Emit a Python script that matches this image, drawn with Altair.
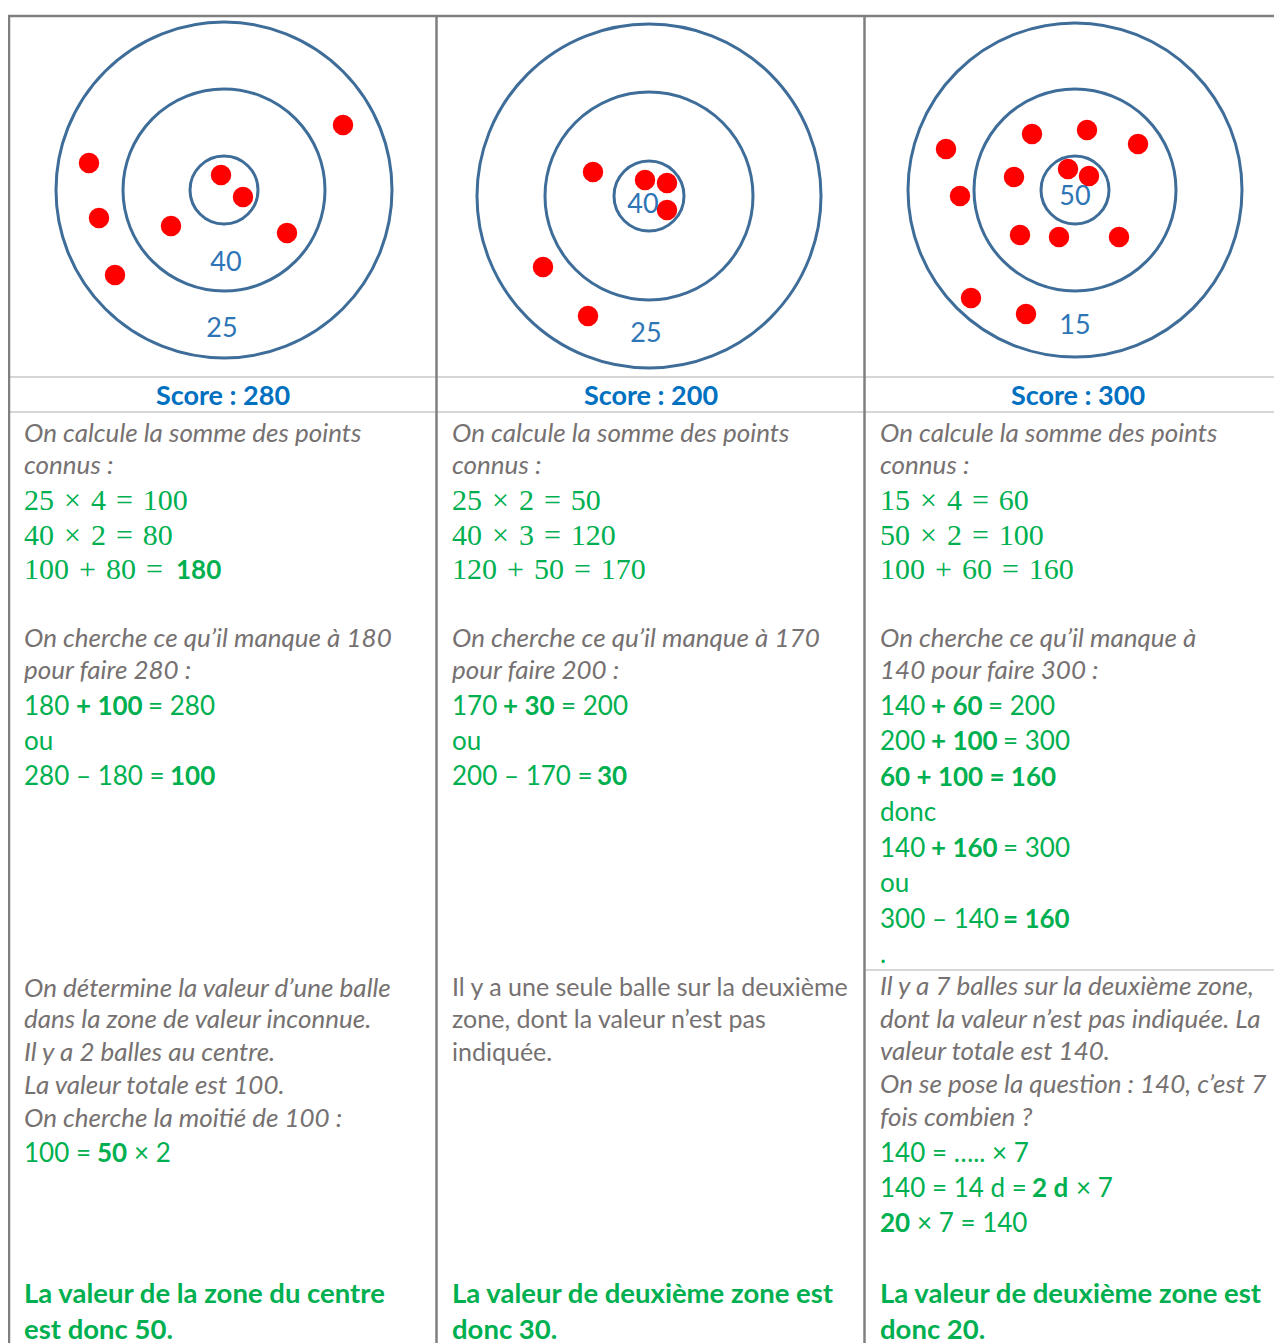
import altair as alt
import pandas as pd

# ---------------- data ----------------
scores = [280, 200, 300]
score_x = [223, 651, 1078]

target_cx = [224, 649, 1075]
target_cy = [190, 196, 190]
r_outer = [168, 172, 167]
r_middle = [101, 104, 101]
r_inner = [34, 35, 34]

balls_x = [
    [343, 89, 99, 115, 171, 221, 243, 287],
    [593, 645, 667, 667, 543, 588],
    [946, 960, 971, 1026, 1032, 1087, 1138, 1014, 1020, 1059, 1119, 1068, 1089],
]
balls_y = [
    [125, 163, 218, 275, 226, 175, 197, 233],
    [172, 180, 183, 210, 267, 316],
    [149, 196, 298, 314, 134, 130, 144, 177, 235, 237, 237, 169, 176],
]

zone_label_text = [["40", "25"], ["40", "25"], ["50", "15"]]
zone_label_x = [[226, 222], [643, 646], [1075, 1075]]
zone_label_y = [[271, 337], [213, 342], [205, 334]]

# table lines
vline_x = [9, 436.5, 864.5]
top_border_y = 16
hline_y = [377, 412]
hline3_y = 970

S = "\u2004"  # math spacing (three-per-em space)

# text lines: (baseline, [(x, text, style)])
# styles: gi gray italic, gr gray regular, m green math serif, s green sans,
#         b green bold, c green bold conclusion
col1 = [
    (442, [(24, "On calcule la somme des points", "gi")]),
    (474, [(24, "connus :", "gi")]),
    (510, [(24, f"25{S}×{S}4{S}={S}100", "m")]),
    (545, [(24, f"40{S}×{S}2{S}={S}80", "m")]),
    (579, [(24, f"100{S}+{S}80{S}=", "m"), (176, "180", "b")]),
    (647, [(24, "On cherche ce qu’il manque à 180", "gi")]),
    (679, [(24, "pour faire 280 :", "gi")]),
    (715, [(24, "180", "s"), (76, "+ 100", "b"), (148, "= 280", "s")]),
    (750, [(24, "ou", "s")]),
    (785, [(24, "280 – 180 =", "s"), (170, "100", "b")]),
    (997, [(24, "On détermine la valeur d’une balle", "gi")]),
    (1028, [(24, "dans la zone de valeur inconnue.", "gi")]),
    (1061, [(24, "Il y a 2 balles au centre.", "gi")]),
    (1094, [(24, "La valeur totale est 100.", "gi")]),
    (1127, [(24, "On cherche la moitié de 100 :", "gi")]),
    (1162, [(24, "100 =", "s"), (97, "50", "b"), (134, "× 2", "s")]),
    (1303, [(24, "La valeur de la zone du centre", "c")]),
    (1339, [(24, "est donc 50.", "c")]),
]
col2 = [
    (442, [(452, "On calcule la somme des points", "gi")]),
    (474, [(452, "connus :", "gi")]),
    (510, [(452, f"25{S}×{S}2{S}={S}50", "m")]),
    (545, [(452, f"40{S}×{S}3{S}={S}120", "m")]),
    (579, [(452, f"120{S}+{S}50{S}={S}170", "m")]),
    (647, [(452, "On cherche ce qu’il manque à 170", "gi")]),
    (679, [(452, "pour faire 200 :", "gi")]),
    (715, [(452, "170", "s"), (503, "+ 30", "b"), (561, "= 200", "s")]),
    (750, [(452, "ou", "s")]),
    (785, [(452, "200 – 170 =", "s"), (597, "30", "b")]),
    (996, [(452, "Il y a une seule balle sur la deuxième", "gr")]),
    (1028, [(452, "zone, dont la valeur n’est pas", "gr")]),
    (1061, [(452, "indiquée.", "gr")]),
    (1303, [(452, "La valeur de deuxième zone est", "c")]),
    (1339, [(452, "donc 30.", "c")]),
]
col3 = [
    (442, [(880, "On calcule la somme des points", "gi")]),
    (474, [(880, "connus :", "gi")]),
    (510, [(880, f"15{S}×{S}4{S}={S}60", "m")]),
    (545, [(880, f"50{S}×{S}2{S}={S}100", "m")]),
    (579, [(880, f"100{S}+{S}60{S}={S}160", "m")]),
    (647, [(880, "On cherche ce qu’il manque à", "gi")]),
    (679, [(880, "140 pour faire 300 :", "gi")]),
    (715, [(880, "140", "s"), (931, "+ 60", "b"), (988, "= 200", "s")]),
    (750, [(880, "200", "s"), (931, "+ 100", "b"), (1003, "= 300", "s")]),
    (786, [(880, "60 + 100 = 160", "b")]),
    (821, [(880, "donc", "s")]),
    (857, [(880, "140", "s"), (931, "+ 160", "b"), (1003, "= 300", "s")]),
    (892, [(880, "ou", "s")]),
    (928, [(880, "300 – 140", "s"), (1003, "= 160", "b")]),
    (963, [(880, ".", "s")]),
    (995, [(880, "Il y a 7 balles sur la deuxième zone,", "gi")]),
    (1028, [(880, "dont la valeur n’est pas indiquée. La", "gi")]),
    (1060, [(880, "valeur totale est 140.", "gi")]),
    (1093, [(880, "On se pose la question : 140, c’est 7", "gi")]),
    (1126, [(880, "fois combien ?", "gi")]),
    (1162, [(880, "140 = ….. × 7", "s")]),
    (1197, [(880, "140 = 14 d =", "s"), (1032, "2 d", "b"), (1076, "× 7", "s")]),
    (1232, [(880, "20", "b"), (917, "× 7 = 140", "s")]),
    (1303, [(880, "La valeur de deuxième zone est", "c")]),
    (1339, [(880, "donc 20.", "c")]),
]

# ---------------- build tables ----------------
W, H = 1266, 1335
xs = alt.Scale(domain=[8, 8 + W], nice=False, zero=False)
ys = alt.Scale(domain=[8, 8 + H], nice=False, zero=False, reverse=True)
X = alt.X("x:Q", scale=xs, axis=None)
Y = alt.Y("y:Q", scale=ys, axis=None)

rings = []
for i in range(3):
    for r in (r_outer[i], r_middle[i], r_inner[i]):
        rings.append({"x": target_cx[i], "y": target_cy[i], "r": r})
rings = pd.DataFrame(rings)

balls = pd.DataFrame([
    {"x": bx, "y": by}
    for i in range(3) for bx, by in zip(balls_x[i], balls_y[i])
])

zlabels = pd.DataFrame([
    {"x": zone_label_x[i][j], "y": zone_label_y[i][j], "text": zone_label_text[i][j]}
    for i in range(3) for j in range(2)
])

score_df = pd.DataFrame({"x": score_x, "y": [405] * 3,
                         "text": [f"Score : {s}" for s in scores]})

rules = []
for vx in vline_x:
    rules.append({"x": vx, "x2": vx, "y": top_border_y, "y2": 8 + H, "kind": "dark"})
rules.append({"x": 8, "x2": 8 + W, "y": top_border_y, "y2": top_border_y, "kind": "dark"})
for hy in hline_y:
    rules.append({"x": 10, "x2": 8 + W, "y": hy, "y2": hy, "kind": "light"})
rules.append({"x": 866, "x2": 8 + W, "y": hline3_y, "y2": hline3_y, "kind": "light"})
rules = pd.DataFrame(rules)

rows = []
for col in (col1, col2, col3):
    for by, segs in col:
        for sx, txt, st in segs:
            rows.append({"x": sx, "y": by, "text": txt, "style": st})
texts = pd.DataFrame(rows)

GRAY = "#767171"
GREEN = "#00B050"
BLUE = "#0070C0"
RING = "#3E6D99"
SANS = "Lato"

def rule_layer(kind, color, width):
    return alt.Chart(rules[rules.kind == kind]).mark_rule(
        color=color, strokeWidth=width
    ).encode(x=X, x2="x2:Q", y=Y, y2="y2:Q")

def text_layer(style, font, size, color, weight="normal", fstyle="normal"):
    return alt.Chart(texts[texts["style"] == style]).mark_text(
        font=font, fontSize=size, color=color, fontWeight=weight,
        fontStyle=fstyle, align="left", baseline="alphabetic"
    ).encode(x=X, y=Y, text="text:N")

layers = [
    rule_layer("light", "#D6D6D6", 2),
    rule_layer("dark", "#7F7F7F", 2.5),
    alt.Chart(rings).transform_calculate(s="pow(2*datum.r, 2)").mark_point(
        shape="circle", filled=False, color=RING, strokeWidth=3, opacity=1
    ).encode(x=X, y=Y, size=alt.Size("s:Q", scale=None, legend=None)),
    alt.Chart(balls).mark_circle(color="#FF0000", opacity=1, size=420).encode(x=X, y=Y),
    alt.Chart(zlabels).mark_text(font=SANS, fontSize=27, color="#2E75B6",
                                 align="center", baseline="alphabetic").encode(x=X, y=Y, text="text:N"),
    alt.Chart(score_df).mark_text(font=SANS, fontSize=27, fontWeight="bold", color=BLUE,
                                  align="center", baseline="alphabetic").encode(x=X, y=Y, text="text:N"),
    text_layer("gi", SANS, 26, GRAY, fstyle="italic"),
    text_layer("gr", SANS, 25, GRAY),
    text_layer("m", "Liberation Serif", 30, GREEN),
    text_layer("s", SANS, 26, GREEN),
    text_layer("b", SANS, 26, GREEN, weight="bold"),
    text_layer("c", SANS, 27.5, GREEN, weight="bold"),
]

chart = alt.layer(*layers).properties(
    width=W, height=H, padding=0,
    autosize=alt.AutoSizeParams(type="none"),
    background="white",
).configure_view(stroke=None)

chart.save("out.html", embed_options={"renderer": "svg", "actions": False})
